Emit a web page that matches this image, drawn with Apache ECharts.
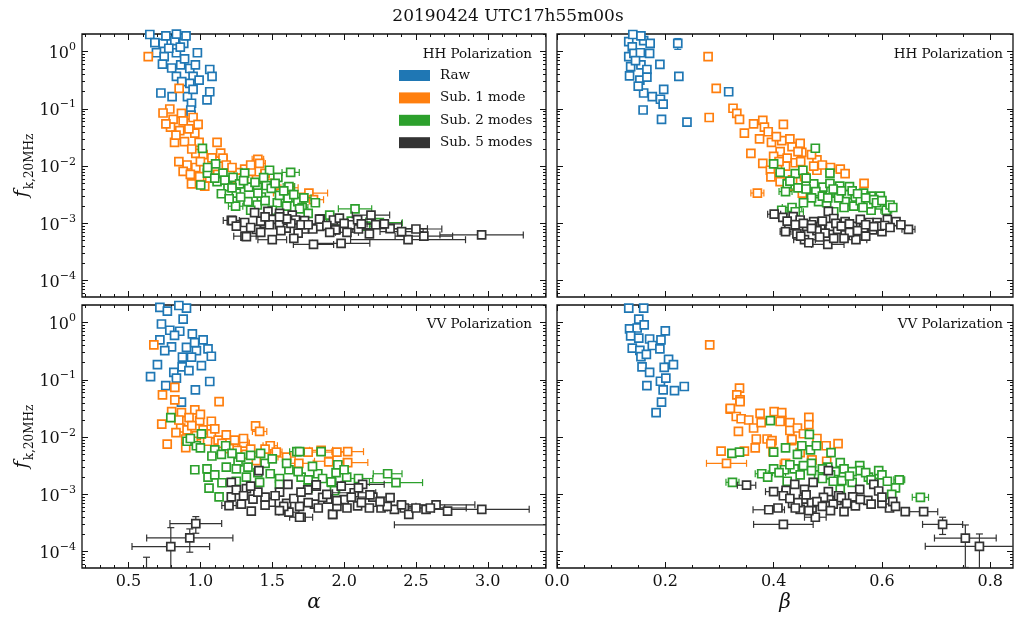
<!DOCTYPE html>
<html><head><meta charset="utf-8">
<script src="https://cdn.jsdelivr.net/npm/echarts@6/dist/echarts.min.js"></script>
<style>html,body{margin:0;padding:0;background:#fff}#c{width:1016px;height:620px}</style>
</head><body><div id="c"></div>
<script>
// ---------- labels ----------
const chartTitle = '20190424 UTC17h55m00s';
const seriesNames = ['Raw', 'Sub. 1 mode', 'Sub. 2 modes', 'Sub. 5 modes'];
const seriesColors = ['#1f77b4', '#ff7f0e', '#2ca02c', '#333333'];
const panelNotes = ['HH Polarization', 'HH Polarization', 'VV Polarization', 'VV Polarization'];
const alphaTicks = [0.5, 1.0, 1.5, 2.0, 2.5, 3.0];
const alphaMinorTicks = [0.2,0.3,0.4,0.6,0.7,0.8,0.9,1.1,1.2,1.3,1.4,1.6,1.7,1.8,1.9,2.1,2.2,2.3,2.4,2.6,2.7,2.8,2.9,3.1,3.2,3.3,3.4];
const betaTicks = [0.0, 0.2, 0.4, 0.6, 0.8];
const betaMinorTicks = [0.05,0.1,0.15,0.25,0.3,0.35,0.45,0.5,0.55,0.65,0.7,0.75];
const fExponents = [-4, -3, -2, -1, 0];
const fMantissas = [2, 3, 4, 5, 6, 7, 8, 9];

// ---------- data: [x, f, xerr, yerr] ----------
// HH polarization, alpha
const hhAlphaRaw = [[0.648,2.0],[0.683,1.44],[0.741,1.40],[0.822,1.56],[0.884,1.40],[0.833,2.03],[0.76,1.9],[0.90,1.9],
 [0.694,0.96],[0.748,0.82],[0.833,0.96],[0.979,0.96],[0.78,1.15],[0.86,1.2],[0.736,0.61],[0.863,0.59],[0.926,0.51],
 [0.965,0.59],[1.065,0.49],[0.80,0.52],[0.89,0.75],[1.081,0.37],[0.833,0.37],[0.949,0.37],[0.991,0.32],[0.926,0.28],
 [0.87,0.30],[0.725,0.19],[0.803,0.164],[0.91,0.164],[0.949,0.22],[1.065,0.20],[1.046,0.144],[0.938,0.126],[0.933,0.096],[0.935,0.078]];
const hhAlphaSub1 = [[0.637,0.82],[0.852,0.23],[0.787,0.10],[0.868,0.084],[0.81,0.066],[0.88,0.062],[0.949,0.071],[0.984,0.054],
 [0.792,0.048],[0.856,0.042],[0.961,0.038],[0.82,0.026],[0.889,0.027],[0.991,0.026],[1.116,0.026],[1.141,0.017],[0.968,0.0168],
 [1.019,0.016],[1.157,0.0138,0.03],[1.40,0.0132,0.04],[1.412,0.0112,0.04],[0.907,0.0105],[0.968,0.0095],[0.88,0.0081],[1.308,0.0089],
 [1.354,0.0081],[1.262,0.0077],[1.18,0.0105],[0.938,0.0049],[0.995,0.0066],[1.065,0.0062],[1.204,0.0047],[1.558,0.0034,0.05],
 [1.755,0.0034,0.13],[1.787,0.0026,0.07],[1.39,0.0058],[1.05,0.0085],[1.12,0.0072],[1.30,0.0062],[1.45,0.0075,0.03],
 [0.74,0.085],[0.76,0.055],[0.83,0.035],[0.92,0.045],[0.94,0.02],[1.0,0.012],[1.08,0.014],[0.85,0.012],[0.93,0.0072],
 [1.03,0.0045],[1.22,0.0095],[1.27,0.0062],[1.35,0.0105],[1.62,0.0042,0.06],[1.47,0.005]];
const hhAlphaSub2 = [[1.014,0.0205],[1.106,0.011],[1.049,0.0076],[1.002,0.0047],[1.116,0.0054],[1.157,0.0076],[1.227,0.0064],
 [1.308,0.0076],[1.192,0.0044],[1.273,0.0049],[1.336,0.0043],[1.396,0.0043],[1.481,0.0085],[1.539,0.0064],[1.628,0.0078,0.06],
 [1.458,0.0046],[1.493,0.0041],[1.616,0.0044,0.04],[1.146,0.0033],[1.25,0.0034],[1.331,0.0024],[1.424,0.0029],[1.535,0.0023],
 [1.609,0.0028],[1.245,0.0020,0.05],[1.396,0.0021],[1.678,0.0024,0.05],[1.708,0.0019,0.04],[2.076,0.0018,0.116],[1.69,0.0018],
 [2.245,0.00103,0.16],[1.85,0.0012],[1.95,0.0011,0.08],[1.5,0.0017],[1.35,0.0017],[1.55,0.0031],[1.2,0.0027],
 [1.05,0.0095],[1.10,0.0062],[1.17,0.0057],[1.22,0.0042],[1.3,0.0056],[1.38,0.0052],[1.44,0.0063],[1.52,0.005],[1.58,0.0037],
 [1.65,0.0032],[1.72,0.0028,0.05],[1.8,0.0023],[1.45,0.0025],[1.28,0.0029],[1.4,0.0034],[1.6,0.002],[1.75,0.0015],[1.9,0.0014],
 [2.05,0.0011,0.1],[2.15,0.0009,0.1]];
const hhAlphaSub5 = [[1.215,0.00113,0.056],[1.31,0.0006,0.078],[1.5,0.00052,0.1],[1.377,0.00155],[1.222,0.00112],[1.308,0.00104],
 [1.32,0.00059],[1.47,0.00162],[1.551,0.0015],[1.5,0.00118],[1.639,0.0014],[1.662,0.00115],[1.597,0.00083],[1.725,0.00112],
 [1.833,0.00118],[1.787,0.00043,0.14],[1.778,0.00083],[1.83,0.00089],[1.389,0.00079],[1.447,0.001],[1.926,0.00115],[1.944,0.00079],
 [1.829,0.00119],[1.724,0.0008],[1.782,0.0008],[1.94,0.00077],[1.967,0.00124],[2.049,0.00095],[2.094,0.00116],[2.187,0.0014,0.13],
 [2.22,0.00095],[2.176,0.00066],[2.32,0.00081,0.26],[2.445,0.00052,0.4],[2.555,0.0006,0.2],[2.957,0.00063,0.29],[1.979,0.00045,0.2],
 [1.63,0.001],[1.7,0.00095],[2.0,0.001],[2.1,0.0008,0.1],[1.55,0.00095],[1.42,0.0011],
 [1.25,0.0009],[1.35,0.00085],[1.42,0.0007],[1.48,0.00095],[1.56,0.00075],[1.6,0.0012],[1.68,0.00068],[1.75,0.00095],
 [1.88,0.00092],[1.9,0.0007],[2.02,0.0007,0.08],[2.12,0.00098,0.09],[2.28,0.00098,0.12],[2.4,0.00072,0.15],[2.5,0.0008,0.18],
 [1.65,0.00055],[1.55,0.0013],[1.45,0.0013]];
// HH polarization, beta
const hhBetaRaw = [[0.1325,1.5],[0.139,1.22],[0.16,1.56],[0.172,1.4],[0.223,1.4,0,0.3],[0.1325,0.82],[0.142,0.94],[0.154,0.96],
 [0.171,0.94],[0.136,0.55],[0.155,0.59],[0.166,0.49],[0.19,0.6],[0.134,0.38],[0.153,0.32],[0.166,0.36],[0.225,0.37],[0.16,0.19],
 [0.176,0.164],[0.197,0.22],[0.191,0.148],[0.196,0.122],[0.159,0.096],[0.193,0.066],[0.24,0.059],[0.317,0.2],[0.14,2.0],[0.155,1.9],
 [0.145,0.7],[0.15,0.25]];
const hhBetaSub1 = [[0.279,0.82],[0.294,0.23],[0.281,0.071],[0.325,0.103],[0.332,0.084],[0.337,0.066],[0.346,0.038],[0.363,0.055],
 [0.38,0.063],[0.383,0.048],[0.374,0.030],[0.418,0.054],[0.358,0.0168],[0.396,0.026],[0.415,0.028],[0.434,0.022],[0.449,0.025],
 [0.412,0.018],[0.40,0.0148],[0.425,0.0138],[0.452,0.0174],[0.38,0.0112],[0.394,0.0085],[0.422,0.010],[0.44,0.0115],[0.48,0.0129],
 [0.48,0.0085],[0.474,0.010],[0.457,0.0066],[0.523,0.0089],[0.532,0.0074],[0.567,0.005],[0.37,0.0034,0.012],[0.412,0.0054],
 [0.453,0.0034],[0.43,0.0045],
 [0.39,0.04],[0.405,0.033],[0.43,0.03],[0.445,0.018],[0.47,0.016],[0.49,0.0105],[0.505,0.0095],[0.45,0.012],[0.41,0.012],
 [0.395,0.0065],[0.435,0.0058],[0.46,0.0052]];
const hhBetaSub2 = [[0.477,0.0206],[0.40,0.011],[0.412,0.0078],[0.44,0.0074],[0.454,0.0085],[0.425,0.0049],[0.422,0.0036,0.012],
 [0.434,0.0019,0.018],[0.415,0.0017],[0.474,0.0049],[0.491,0.0043],[0.504,0.0076],[0.504,0.005],[0.469,0.0034],[0.483,0.0024],
 [0.498,0.0023],[0.517,0.0034],[0.522,0.0045],[0.54,0.0044],[0.536,0.0032],[0.551,0.0029],[0.566,0.0034],[0.58,0.003],[0.597,0.003],
 [0.596,0.0021],[0.58,0.0017],[0.548,0.002],[0.532,0.0024],[0.608,0.0017,0.01],[0.511,0.0016],[0.46,0.0062],[0.52,0.0028],
 [0.56,0.0025],[0.575,0.0022],
 [0.43,0.0055],[0.445,0.0042],[0.46,0.004],[0.478,0.0036],[0.49,0.003],[0.51,0.004],[0.525,0.0037],[0.545,0.0037],[0.555,0.0033],
 [0.57,0.0028],[0.585,0.0026],[0.59,0.0023],[0.6,0.0025],[0.615,0.0021],[0.62,0.0019],[0.5,0.0028],[0.47,0.0028],[0.455,0.0023],
 [0.44,0.0016,0.015],[0.565,0.0019],[0.53,0.0019]];
const hhBetaSub5 = [[0.401,0.00145,0.012],[0.417,0.00128],[0.436,0.00132],[0.449,0.00115],[0.428,0.00093],[0.422,0.00072,0.01],
 [0.448,0.00079],[0.461,0.00089],[0.474,0.00108],[0.501,0.00163],[0.511,0.00122],[0.504,0.00089],[0.487,0.00089],[0.457,0.00052,0.02],
 [0.443,0.00066],[0.50,0.00043,0.03],[0.465,0.00046],[0.518,0.00079],[0.532,0.00108],[0.546,0.00089],[0.56,0.00118],[0.566,0.00083],
 [0.552,0.00052,0.02],[0.583,0.00077],[0.577,0.00104],[0.591,0.00104],[0.60,0.00072],[0.61,0.00118],[0.626,0.00108],[0.649,0.00079,0.012],
 [0.532,0.00063],[0.511,0.00055],[0.48,0.00075],[0.54,0.0007],[0.595,0.0009],[0.47,0.00095],
 [0.425,0.0011],[0.44,0.00095],[0.455,0.001],[0.47,0.00082],[0.49,0.0011],[0.495,0.00068],[0.515,0.001],[0.525,0.0009],
 [0.54,0.00098],[0.555,0.00075],[0.57,0.00095],[0.585,0.00088],[0.605,0.00092],[0.615,0.00085],[0.635,0.00095],[0.485,0.00058],
 [0.53,0.00055],[0.57,0.0006],[0.45,0.0006]];
// VV polarization, alpha
const vvAlphaRaw = [[0.718,1.85],[0.903,1.8],[0.88,1.16],[0.729,0.95],[0.787,0.74],[0.856,0.71],[0.944,0.64],[1.019,0.5],[0.718,0.5],
 [0.799,0.38],[0.752,0.325],[0.903,0.37],[0.972,0.325],[1.053,0.35],[1.076,0.26],[0.938,0.25],[0.875,0.25],[1.007,0.178],[0.873,0.17],
 [0.92,0.146],[0.701,0.185],[0.815,0.136],[0.653,0.114],[0.833,0.108],[1.065,0.094],[0.759,0.08],[0.965,0.067],[0.868,0.041],
 [0.77,1.6],[0.85,2.0],[0.96,0.45],[0.82,0.6]];
const vvAlphaSub1 = [[0.676,0.41],[0.822,0.074],[0.736,0.055],[0.822,0.045],[1.13,0.042],[0.868,0.027],[0.961,0.030],[0.921,0.022],
 [0.995,0.0195],[1.076,0.019],[0.731,0.017],[0.863,0.0145],[0.907,0.0134],[0.972,0.0107],[1.019,0.0134],[1.076,0.0114],[1.18,0.011],
 [0.898,0.0093],[0.769,0.0076],[0.898,0.0066],[1.123,0.0089],[1.238,0.0089],[1.301,0.0079,0.04],[1.384,0.0158],[1.412,0.0126,0.05],
 [1.255,0.0059],[1.315,0.005],[1.389,0.0039],[1.486,0.0071,0.05],[1.528,0.0055,0.04],[1.685,0.0035,0.1],[1.894,0.0038,0.1],
 [1.84,0.0059,0.08],[2.025,0.0056,0.11],[1.893,0.0037],[2.025,0.0036,0.14],[1.2,0.0063],[1.05,0.0085],
 [0.8,0.028],[0.85,0.02],[0.94,0.016],[1.0,0.025],[0.83,0.012],[0.95,0.0085],[1.1,0.014],[1.15,0.0078],[1.3,0.0095],
 [1.35,0.0062],[1.6,0.0045,0.06],[1.75,0.0055,0.06],[1.95,0.0055,0.08],[1.45,0.0062]];
const vvAlphaSub2 = [[0.794,0.022],[1.007,0.0114],[0.907,0.0085],[0.972,0.0071],[1.10,0.006],[1.146,0.005],[1.176,0.0071],[0.961,0.0027],
 [1.046,0.0028],[1.053,0.002],[1.06,0.00129],[1.13,0.00091],[1.18,0.003],[1.262,0.0037],[1.331,0.003],[1.419,0.0052],[1.32,0.002],
 [1.412,0.00163],[1.486,0.0023],[1.551,0.0019],[1.616,0.0027],[1.701,0.002],[1.671,0.0056,0.05],[1.817,0.0023],[1.84,0.0056],
 [1.914,0.00163],[1.94,0.00126],[1.69,0.0056],[1.944,0.0024],[2.018,0.002],[1.956,0.0033],[2.303,0.0023,0.1],[2.361,0.00161,0.185],
 [1.91,0.00166],[1.933,0.00116],[1.25,0.0028],[1.55,0.0015],[1.75,0.0013],
 [0.93,0.0095],[1.0,0.0065],[1.08,0.0047],[1.22,0.0052],[1.28,0.0045],[1.35,0.0048],[1.45,0.0035],[1.5,0.0042],[1.6,0.0035],
 [1.68,0.0025],[1.78,0.0031],[1.85,0.0019],[2.0,0.0027],[2.1,0.0019,0.1],[1.1,0.0022],[1.15,0.0016],[1.25,0.0017],[1.4,0.0024],
 [1.75,0.0018]];
const vvAlphaSub5 = [[1.215,0.00163],[1.32,0.00126],[1.407,0.0026],[1.215,0.00091],[1.199,0.00064,0.05],[1.285,0.00068],[1.354,0.00051],
 [1.366,0.00083],[1.493,0.00073],[1.551,0.0011],[1.609,0.0015],[1.616,0.00049,0.07],[1.701,0.0004,0.08],[1.69,0.00062],[1.794,0.00068],
 [1.806,0.00139],[1.887,0.00083],[1.921,0.00045],[0.968,0.00031,0.18,0.0001],[0.926,0.000174,0.3,0.000076],[0.794,0.000123,0.27,0.00014],
 [0.625,0.00003,0,0.00005],[1.806,0.00147],[2.129,0.0015,0.15],[2.07,0.00107,0.15],[2.0,0.00081],[2.176,0.00058],[2.257,0.00058],
 [2.35,0.00055],[2.419,0.00058],[2.57,0.00055],[2.64,0.00066,0.27],[2.72,0.00051],[2.958,0.00055,0.33],[2.45,0.00045],[1.92,0.00045],
 [2.094,0.00063],[1.747,0.0012],[1.851,0.00089],[1.69,0.0004],[3.9,0.000295,1.55],[1.45,0.0009],[1.6,0.0007],[2.2,0.0009,0.1],
 [2.3,0.00062,0.2],[1.95,0.00062],
 [1.25,0.0012],[1.3,0.00095],[1.4,0.0011],[1.45,0.00065],[1.52,0.00095],[1.58,0.00062],[1.65,0.00085],[1.7,0.0011],[1.75,0.00072],
 [1.82,0.00058],[1.88,0.001],[1.95,0.00078],[2.02,0.00058],[2.05,0.0009],[2.12,0.00072],[2.18,0.00098],[2.25,0.00075],[2.32,0.00088],
 [2.4,0.00066],[2.5,0.00058,0.2],[2.6,0.00058,0.25],[2.1,0.0013],[1.98,0.0014],[1.35,0.0014],[1.55,0.00052]];
// VV polarization, beta
const vvBetaRaw = [[0.1325,1.8],[0.16,1.8],[0.151,1.16],[0.134,0.78],[0.148,0.81],[0.161,0.92],[0.20,0.72],[0.136,0.59],[0.151,0.54],
 [0.171,0.52],[0.192,0.5],[0.139,0.36],[0.153,0.33],[0.176,0.40],[0.19,0.35],[0.155,0.255],[0.165,0.28],[0.206,0.23],[0.215,0.185],
 [0.157,0.17],[0.171,0.136],[0.198,0.166],[0.191,0.095],[0.201,0.108],[0.166,0.08],[0.196,0.067],[0.217,0.065],[0.235,0.077],
 [0.193,0.041,0.007],[0.183,0.027,0.007]];
const vvBetaSub1 = [[0.282,0.41],[0.337,0.072],[0.332,0.055],[0.338,0.045,0.008],[0.32,0.031],[0.331,0.023],[0.34,0.021],[0.354,0.02],
 [0.363,0.0145],[0.375,0.026],[0.377,0.018],[0.335,0.0126,0.005],[0.368,0.0093],[0.388,0.0093],[0.401,0.028],[0.415,0.027],
 [0.415,0.0195],[0.43,0.018],[0.43,0.0131],[0.444,0.0145],[0.465,0.0222],[0.465,0.0166],[0.303,0.0057],[0.313,0.0035,0.037],
 [0.346,0.0057],[0.366,0.0065],[0.397,0.0087],[0.433,0.0087],[0.422,0.0035,0.01],[0.47,0.004],[0.32,0.032],[0.338,0.042],
 [0.412,0.0188],[0.395,0.0077],[0.434,0.0092],[0.497,0.0071],[0.519,0.0077],[0.399,0.0056],[0.449,0.0054],[0.471,0.004],
 [0.498,0.0038],[0.48,0.0095],[0.455,0.0115]];
const vvBetaSub2 = [[0.394,0.0195],[0.323,0.0052],[0.337,0.0055],[0.40,0.0055],[0.422,0.0065],[0.444,0.005],[0.466,0.0112],[0.452,0.0071],
 [0.468,0.006],[0.378,0.0023,0.012],[0.389,0.002],[0.324,0.00163,0.012],[0.42,0.0027],[0.438,0.0028],[0.449,0.0022],[0.425,0.0017],
 [0.479,0.0071],[0.506,0.0054],[0.523,0.0036],[0.559,0.0032],[0.559,0.0026],[0.594,0.0026],[0.545,0.0025],[0.483,0.0022],[0.514,0.0025],
 [0.526,0.00174],[0.545,0.00163],[0.585,0.00163],[0.632,0.0018,0.01],[0.625,0.0013],[0.618,0.001],[0.671,0.00089,0.015],[0.523,0.00123],
 [0.5,0.003],[0.47,0.0035],[0.575,0.002],[0.6,0.0022],
 [0.43,0.0033],[0.455,0.0032],[0.47,0.0026],[0.49,0.0028],[0.505,0.0022],[0.53,0.0028],[0.54,0.0021],[0.57,0.0024],[0.58,0.0018],
 [0.61,0.0017],[0.49,0.0019],[0.51,0.0017],[0.4,0.0028],[0.41,0.0024,0.012]];
const vvBetaSub5 = [[0.35,0.00145,0.017],[0.501,0.0026],[0.439,0.0015],[0.473,0.00163],[0.501,0.00112],[0.423,0.00118],[0.40,0.00112,0.015],
 [0.457,0.00123],[0.559,0.00123],[0.585,0.0015],[0.594,0.00115],[0.546,0.00091],[0.574,0.00079],[0.418,0.00095],[0.455,0.00083],
 [0.492,0.00089],[0.517,0.00079],[0.391,0.00054,0.029],[0.408,0.00058],[0.449,0.00055],[0.471,0.00058],[0.497,0.00063],[0.53,0.0005],
 [0.551,0.00063],[0.614,0.00058],[0.643,0.0005],[0.677,0.0005,0.026],[0.477,0.0004,0.02],[0.418,0.0003,0.055],[0.712,0.0003,0.037,0.0001],
 [0.754,0.000173,0.057,0.00012],[0.78,0.000124,0.1,0.00008],[0.435,0.0007],[0.47,0.00072],[0.52,0.00095],[0.6,0.0007],
 [0.43,0.00085],[0.445,0.00072],[0.46,0.00098],[0.48,0.00075],[0.49,0.00062],[0.51,0.00068],[0.525,0.00088],[0.535,0.0007],
 [0.56,0.00082],[0.58,0.00068],[0.6,0.0009],[0.62,0.00075],[0.44,0.00058],[0.465,0.00052],[0.505,0.00052],[0.625,0.00062]];

// ---------- layout ----------
const FONT = 'DejaVu Serif';
const INK = '#111';
const grids = [
  {left: 82, top: 34, width: 464, height: 263},
  {left: 557, top: 34, width: 456, height: 263},
  {left: 82, top: 305, width: 464, height: 263},
  {left: 557, top: 305, width: 456, height: 263}
];
const xRanges = {alpha: [0.176, 3.405], beta: [0, 0.842]};
const yRange = [-4.285, 0.31]; // log10 of f
const panels = [
  {kind: 'alpha', sets: [hhAlphaRaw, hhAlphaSub1, hhAlphaSub2, hhAlphaSub5], xLab: false, yLab: true},
  {kind: 'beta', sets: [hhBetaRaw, hhBetaSub1, hhBetaSub2, hhBetaSub5], xLab: false, yLab: false},
  {kind: 'alpha', sets: [vvAlphaRaw, vvAlphaSub1, vvAlphaSub2, vvAlphaSub5], xLab: true, yLab: true},
  {kind: 'beta', sets: [vvBetaRaw, vvBetaSub1, vvBetaSub2, vvBetaSub5], xLab: true, yLab: false}
];

const yMajor = fExponents.slice();
const yMinor = [];
for (let n = -5; n <= 0; n++) for (const m of fMantissas) {
  const v = n + Math.log10(m);
  if (v > yRange[0] && v < yRange[1]) yMinor.push(v);
}

function supExp(e) { return e < 0 ? '\u2212' + (-e) : String(e); }

const xAxes = [], yAxes = [], series = [];
panels.forEach((p, gi) => {
  const [xmin, xmax] = xRanges[p.kind];
  const maj = p.kind === 'alpha' ? alphaTicks : betaTicks;
  const mnr = p.kind === 'alpha' ? alphaMinorTicks : betaMinorTicks;
  const baseX = {type: 'value', gridIndex: gi, min: xmin, max: xmax, splitLine: {show: false},
    axisLine: {show: false, onZero: false}};
  const baseY = {type: 'value', gridIndex: gi, min: yRange[0], max: yRange[1], splitLine: {show: false},
    axisLine: {show: false, onZero: false}};
  const tk = (vals, len) => ({show: true, inside: true, length: len, customValues: vals, lineStyle: {color: INK, width: 1}});
  xAxes.push(Object.assign({}, baseX, {position: 'bottom', axisTick: tk(maj, 6),
    axisLabel: {show: p.xLab, customValues: maj, formatter: v => v.toFixed(1), fontFamily: FONT, fontSize: 16, color: INK, margin: 6},
    name: p.xLab ? (p.kind === 'alpha' ? 'α' : 'β') : '', nameLocation: 'middle', nameGap: 25,
    nameTextStyle: {fontFamily: FONT, fontStyle: 'italic', fontSize: 20, color: INK}}));
  xAxes.push(Object.assign({}, baseX, {position: 'top', axisTick: tk(maj, 6), axisLabel: {show: false}}));
  xAxes.push(Object.assign({}, baseX, {position: 'bottom', axisTick: tk(mnr, 3), axisLabel: {show: false}}));
  xAxes.push(Object.assign({}, baseX, {position: 'top', axisTick: tk(mnr, 3), axisLabel: {show: false}}));
  yAxes.push(Object.assign({}, baseY, {position: 'left', axisTick: tk(yMajor, 6),
    axisLabel: {show: p.yLab, customValues: yMajor, margin: 6,
      formatter: v => '{b|10}{s|' + supExp(Math.round(v)) + '}',
      rich: {b: {fontFamily: FONT, fontSize: 16, color: INK, verticalAlign: 'bottom'},
             s: {fontFamily: FONT, fontSize: 11, color: INK, verticalAlign: 'bottom', padding: [0, 0, 9, 0]}}},
    name: p.yLab ? '{f|f}{s|k,20MHz}' : '', nameLocation: 'middle', nameGap: 41,
    nameTextStyle: {rich: {f: {fontFamily: FONT, fontStyle: 'italic', fontSize: 19, color: INK, verticalAlign: 'bottom', padding: [0, 1, 4, 0]},
                           s: {fontFamily: FONT, fontSize: 12, color: INK, verticalAlign: 'bottom'}}}}));
  yAxes.push(Object.assign({}, baseY, {position: 'right', axisTick: tk(yMajor, 6), axisLabel: {show: false}}));
  yAxes.push(Object.assign({}, baseY, {position: 'left', axisTick: tk(yMinor, 3), axisLabel: {show: false}}));
  yAxes.push(Object.assign({}, baseY, {position: 'right', axisTick: tk(yMinor, 3), axisLabel: {show: false}}));

  p.sets.forEach((set, si) => {
    const color = seriesColors[si];
    const errData = set.map(r => {
      const x = r[0], f = r[1], xe = r[2] || 0, ye = r[3] || 0;
      const lo = f - ye > 0 ? Math.log10(f - ye) : -20;
      return [x, Math.log10(f), x - xe, x + xe, ye ? lo : Math.log10(f), Math.log10(f + ye)];
    });
    series.push({
      type: 'custom', name: seriesNames[si] + ' err', coordinateSystem: 'cartesian2d',
      xAxisIndex: gi * 4, yAxisIndex: gi * 4, z: 2 + si * 2, silent: true, animation: false,
      encode: {x: 0, y: 1}, data: errData,
      renderItem: function (params, api) {
        const cs = params.coordSys;
        const L = cs.x, R = cs.x + cs.width, T = cs.y, B = cs.y + cs.height;
        const xv = api.value(0), yv = api.value(1);
        const xl = api.value(2), xh = api.value(3), yl = api.value(4), yh = api.value(5);
        const st = {stroke: color, lineWidth: 1.2, fill: null};
        const cap = 3.5, ch = [];
        const c = api.coord([xv, yv]);
        if (xh > xl && c[1] >= T && c[1] <= B) {
          const pa = api.coord([xl, yv])[0], pb = api.coord([xh, yv])[0];
          const a = Math.max(pa, L), b = Math.min(pb, R);
          if (b > a) ch.push({type: 'line', shape: {x1: a, y1: c[1], x2: b, y2: c[1]}, style: st});
          if (pa >= L && pa <= R) ch.push({type: 'line', shape: {x1: pa, y1: c[1] - cap, x2: pa, y2: c[1] + cap}, style: st});
          if (pb >= L && pb <= R) ch.push({type: 'line', shape: {x1: pb, y1: c[1] - cap, x2: pb, y2: c[1] + cap}, style: st});
        }
        if (yh > yl && c[0] >= L && c[0] <= R) {
          const pl = api.coord([xv, yl])[1], ph = api.coord([xv, yh])[1];
          const a = Math.max(ph, T), b = Math.min(pl, B);
          if (b > a) ch.push({type: 'line', shape: {x1: c[0], y1: a, x2: c[0], y2: b}, style: st});
          if (pl >= T && pl <= B) ch.push({type: 'line', shape: {x1: c[0] - cap, y1: pl, x2: c[0] + cap, y2: pl}, style: st});
          if (ph >= T && ph <= B) ch.push({type: 'line', shape: {x1: c[0] - cap, y1: ph, x2: c[0] + cap, y2: ph}, style: st});
        }
        return {type: 'group', children: ch};
      }
    });
    series.push({
      type: 'scatter', name: seriesNames[si], xAxisIndex: gi * 4, yAxisIndex: gi * 4,
      z: 3 + si * 2, clip: true, animation: false, silent: true,
      symbol: 'rect', symbolSize: 8,
      itemStyle: {color: '#ffffff', borderColor: color, borderWidth: 1.7, opacity: 1},
      data: set.map(r => [r[0], Math.log10(r[1])])
    });
  });
});

const graphics = [];
const noteAnchors = [[532, 54], [1003, 54], [532, 324], [1003, 324]];
panelNotes.forEach((t, i) => {
  graphics.push({type: 'text', x: noteAnchors[i][0], y: noteAnchors[i][1], silent: true,
    style: {text: t, align: 'right', textAlign: 'right', verticalAlign: 'middle', textVerticalAlign: 'middle',
      fontFamily: FONT, fontSize: 13.5, fill: INK}});
});

const option = {
  backgroundColor: '#ffffff',
  animation: false,
  title: {text: chartTitle, left: 'center', top: 3, textStyle: {fontFamily: FONT, fontSize: 17, fontWeight: 'normal', color: INK}},
  grid: grids.map(g => Object.assign({show: true, borderColor: INK, borderWidth: 1.3, backgroundColor: 'transparent', containLabel: false}, g)),
  legend: {
    left: 399, top: 68.5, orient: 'vertical', icon: 'rect', itemWidth: 31, itemHeight: 11, itemGap: 8.4,
    padding: 0, selectedMode: false,
    textStyle: {fontFamily: FONT, fontSize: 13.5, color: INK, lineHeight: 13, padding: [0, 0, 0, 5]},
    data: seriesNames.map((n, i) => ({name: n, icon: 'rect', itemStyle: {color: seriesColors[i], borderWidth: 0}}))
  },
  xAxis: xAxes,
  yAxis: yAxes,
  graphic: graphics,
  series: series
};
const chart = echarts.init(document.getElementById('c'), null, {renderer: 'canvas'});
chart.setOption(option);
</script>
</body></html>
